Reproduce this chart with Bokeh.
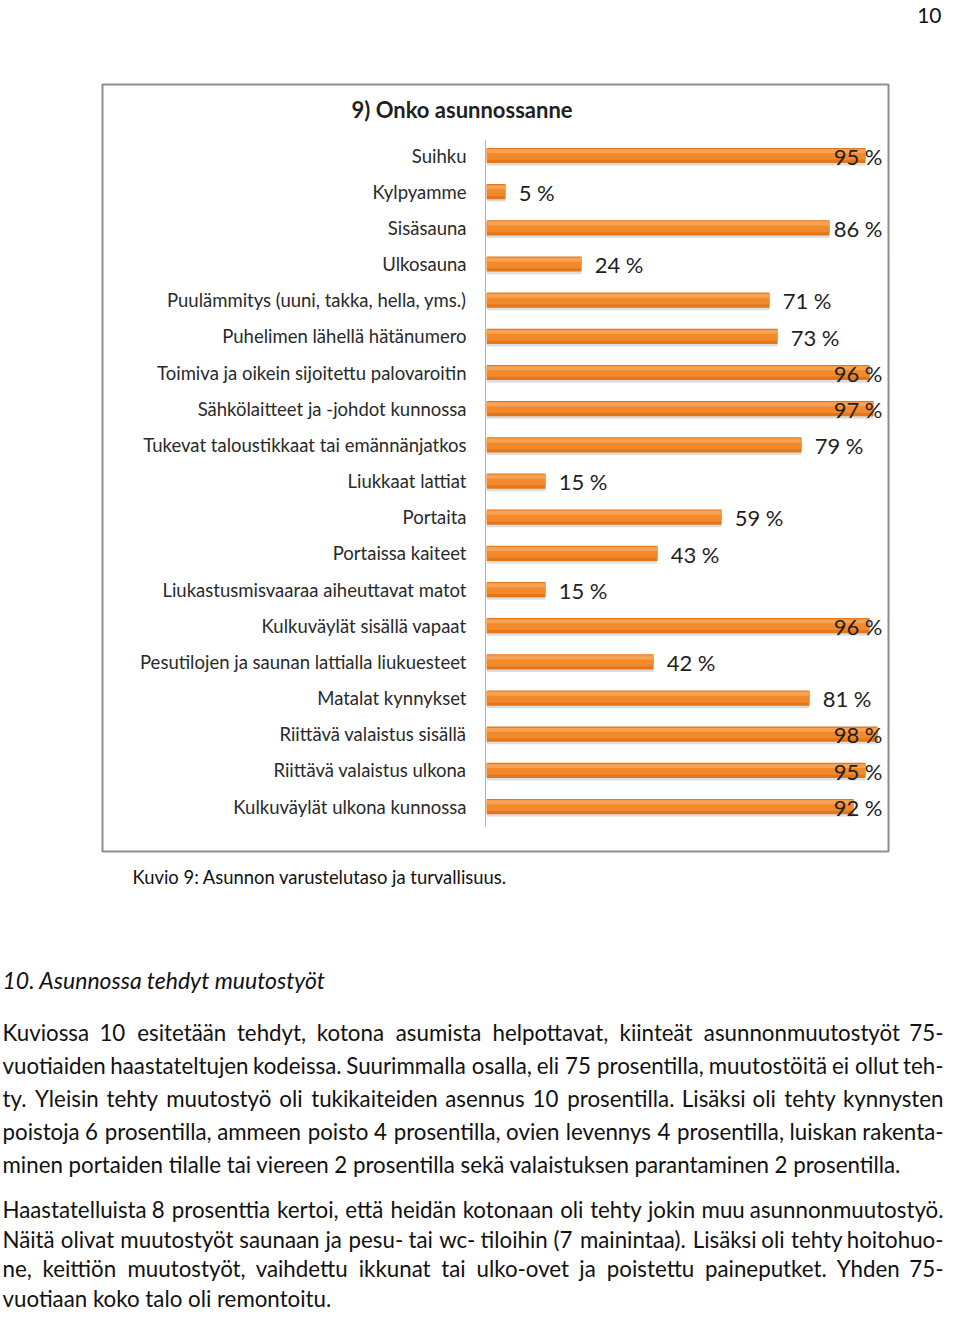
from bokeh.plotting import figure
from bokeh.models import Range1d, ColumnDataSource
from bokeh.embed import file_html
from bokeh.resources import INLINE
from bokeh.core.properties import value
from bokeh.transform import dodge

# ---------------- data ----------------
chart_title = "9) Onko asunnossanne"
categories = [
    "Suihku",
    "Kylpyamme",
    "Sisäsauna",
    "Ulkosauna",
    "Puulämmitys (uuni, takka, hella, yms.)",
    "Puhelimen lähellä hätänumero",
    "Toimiva ja oikein sijoitettu palovaroitin",
    "Sähkölaitteet ja -johdot kunnossa",
    "Tukevat taloustikkaat tai emännänjatkos",
    "Liukkaat lattiat",
    "Portaita",
    "Portaissa kaiteet",
    "Liukastusmisvaaraa aiheuttavat matot",
    "Kulkuväylät sisällä vapaat",
    "Pesutilojen ja saunan lattialla liukuesteet",
    "Matalat kynnykset",
    "Riittävä valaistus sisällä",
    "Riittävä valaistus ulkona",
    "Kulkuväylät ulkona kunnossa",
]
percentages = [95, 5, 86, 24, 71, 73, 96, 97, 79, 15, 59, 43, 15, 96, 42, 81, 98, 95, 92]

page_number = "10"
caption = "Kuvio 9: Asunnon varustelutaso ja turvallisuus."
heading = "10. Asunnossa tehdyt muutostyöt"
paragraph1 = [
    "Kuviossa 10 esitetään tehdyt, kotona asumista helpottavat, kiinteät asunnonmuutostyöt 75-",
    "vuotiaiden haastateltujen kodeissa. Suurimmalla osalla, eli 75 prosentilla, muutostöitä ei ollut teh-",
    "ty. Yleisin tehty muutostyö oli tukikaiteiden asennus 10 prosentilla. Lisäksi oli tehty kynnysten",
    "poistoja 6 prosentilla, ammeen poisto 4 prosentilla, ovien levennys 4 prosentilla, luiskan rakenta-",
    "minen portaiden tilalle tai viereen 2 prosentilla sekä valaistuksen parantaminen 2 prosentilla.",
]
paragraph2 = [
    "Haastatelluista 8 prosenttia kertoi, että heidän kotonaan oli tehty jokin muu asunnonmuutostyö.",
    "Näitä olivat muutostyöt saunaan ja pesu- tai wc- tiloihin (7 mainintaa). Lisäksi oli tehty hoitohuo-",
    "ne, keittiön muutostyöt, vaihdettu ikkunat tai ulko-ovet ja poistettu paineputket. Yhden 75-",
    "vuotiaan koko talo oli remontoitu.",
]

# ---------------- layout constants ----------------
W, H = 944, 1314
FONT = "Lato"
X0, PX = 485.0, 4.0       # pixel x of 0 %, pixels per %
Y0, RH = 155.0, 36.17     # pixel y of first row, row spacing

p = figure(width=W, height=H, x_range=Range1d(0, W), y_range=Range1d(H, 0),
           output_backend="svg", toolbar_location=None, min_border=0,
           x_axis_location=None, y_axis_location=None, tools="")
p.grid.visible = False
p.outline_line_color = None
p.background_fill_color = "white"
p.border_fill_color = "white"

p.extra_x_ranges = {"pct": Range1d(-X0 / PX, (W - X0) / PX)}
p.extra_y_ranges = {"row": Range1d((H - Y0) / RH, -Y0 / RH)}
row_range = p.extra_y_ranges["row"]

n = len(categories)
rows = list(range(n))
labels = [f"{v} %" for v in percentages]
src = ColumnDataSource(dict(row=rows, val=percentages, cat=categories, lab=labels))

# chart frame
p.quad(left=102, right=888, top=84, bottom=851, fill_color=None,
       line_color="#8e8e8e", line_width=2)

# title
p.text(x=[351], y=[109], text=[chart_title], text_font=value(FONT),
       text_font_size="22px", text_font_style="bold", text_color="#1f1f1f",
       text_baseline="middle", text_align="left")

# vertical axis line
p.segment(x0=[0], x1=[0], y0=[-0.42], y1=[n - 0.45], line_color="#b0b0b0",
          line_width=1, x_range_name="pct", y_range_name="row")

# bar shadow
p.hbar(y=dodge("row", 0.08, range=row_range), left=0.3, right="val", height=0.40,
       source=src, fill_color="#8a8a8a", fill_alpha=0.28, line_color=None,
       x_range_name="pct", y_range_name="row")
# bars (layered to imitate the gradient)
p.hbar(y="row", left=0.3, right="val", height=0.42, source=src,
       fill_color="#E2761B", line_color=None, x_range_name="pct", y_range_name="row")
p.hbar(y=dodge("row", -0.03, range=row_range), left=0.3, right="val", height=0.30,
       source=src, fill_color="#F28A2B", line_color=None,
       x_range_name="pct", y_range_name="row")
p.hbar(y=dodge("row", -0.12, range=row_range), left=0.3, right="val", height=0.11,
       source=src, fill_color="#F7A255", line_color=None,
       x_range_name="pct", y_range_name="row")

# category labels
p.text(x=466, y="row", text="cat", source=src, text_font=value(FONT),
       text_font_size="18.5px", text_color="#2a2a2a", text_align="right",
       text_baseline="middle", y_range_name="row")

# value labels
inside = [i for i, v in enumerate(percentages) if v >= 84]
outside = [i for i, v in enumerate(percentages) if v < 84]
src_out = ColumnDataSource(dict(row=[rows[i] for i in outside],
                                val=[percentages[i] + 3.3 for i in outside],
                                lab=[labels[i] for i in outside]))
src_in = ColumnDataSource(dict(row=[rows[i] for i in inside],
                               lab=[labels[i] for i in inside]))
p.text(x="val", y=dodge("row", 0.02, range=row_range), text="lab", source=src_out,
       text_font=value(FONT), text_font_size="22px", text_color="#1f1f1f",
       text_align="left", text_baseline="middle",
       x_range_name="pct", y_range_name="row")
p.text(x=99.25, y=dodge("row", 0.02, range=row_range), text="lab", source=src_in,
       text_font=value(FONT), text_font_size="22px", text_color="#1f1f1f",
       text_align="right", text_baseline="middle",
       x_range_name="pct", y_range_name="row")

# page number
p.text(x=[941], y=[15], text=[page_number], text_font=value(FONT),
       text_font_size="21px", text_color="#111111", text_align="right",
       text_baseline="middle")

# caption
p.text(x=[132], y=[876], text=[caption], text_font=value(FONT),
       text_font_size="18.4px", text_color="#111111", text_align="left",
       text_baseline="middle")

# heading
p.text(x=[2], y=[979], text=[heading], text_font=value(FONT),
       text_font_size="23px", text_font_style="italic", text_color="#111111",
       text_align="left", text_baseline="middle")

# ---------------- justified body text ----------------
CW = {
    " ": 0.193, "a": 0.49, "b": 0.557, "c": 0.455, "d": 0.557, "e": 0.52, "f": 0.32,
    "g": 0.50, "h": 0.557, "i": 0.237, "j": 0.237, "k": 0.50, "l": 0.237, "m": 0.835,
    "n": 0.557, "o": 0.555, "p": 0.555, "q": 0.555, "r": 0.37, "s": 0.42, "t": 0.35,
    "u": 0.557, "v": 0.50, "w": 0.76, "x": 0.49, "y": 0.50, "z": 0.44, "ä": 0.49,
    "ö": 0.555, ",": 0.21, ".": 0.21, "-": 0.33, "(": 0.30, ")": 0.30, ":": 0.23,
    "K": 0.63, "Y": 0.60, "L": 0.47, "H": 0.74, "N": 0.74, "S": 0.51,
}


def word_width(w, size):
    return sum(CW.get(ch, 0.58 if ch.isdigit() else 0.6) for ch in w) * size


BODY_SIZE = 22.3
LEFT, RIGHT = 2.0, 943.0
wx, wy, wt = [], [], []
rx, ry, rt = [], [], []
ll_x, ll_y, ll_t = [], [], []


def set_paragraph(lines, y_start, dy):
    for k, line in enumerate(lines):
        y = y_start + k * dy
        if k == len(lines) - 1:
            ll_x.append(LEFT); ll_y.append(y); ll_t.append(line)
            continue
        words = line.split(" ")
        widths = [word_width(w, BODY_SIZE) for w in words]
        gap = (RIGHT - LEFT - sum(widths)) / (len(words) - 1)
        x = LEFT
        for j, (w, ww) in enumerate(zip(words, widths)):
            if j == len(words) - 1:
                rx.append(RIGHT); ry.append(y); rt.append(w)
            else:
                wx.append(x); wy.append(y); wt.append(w)
            x += ww + gap


set_paragraph(paragraph1, 1032, 33.0)
set_paragraph(paragraph2, 1209, 29.7)

for xs, ys, ts, al in ((wx, wy, wt, "left"), (rx, ry, rt, "right"), (ll_x, ll_y, ll_t, "left")):
    p.text(x=xs, y=ys, text=ts, text_font=value(FONT), text_font_size=f"{BODY_SIZE}px",
           text_color="#111111", text_align=al, text_baseline="middle")

open("out.html", "w").write(file_html(p, INLINE))
